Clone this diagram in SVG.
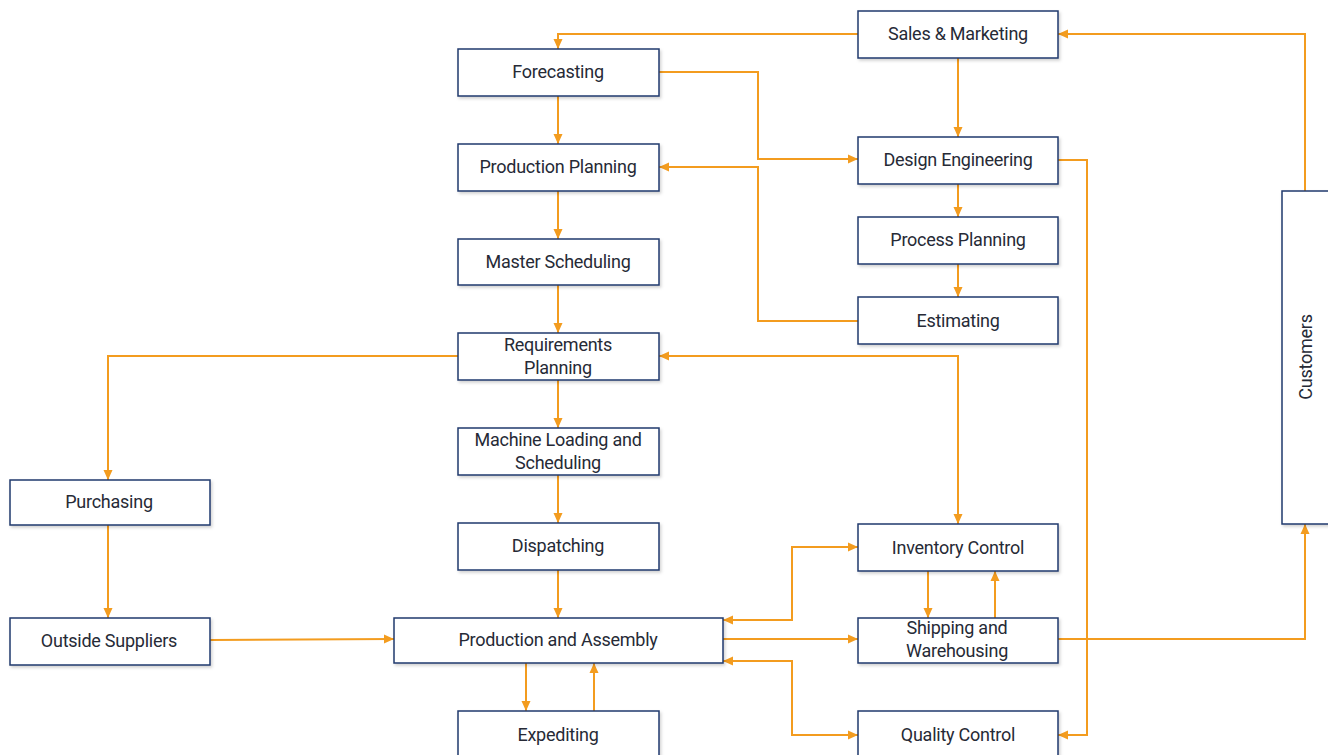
<svg xmlns="http://www.w3.org/2000/svg" width="1328" height="755" viewBox="0 0 1328 755">
  <defs>
    <style>
      .box { fill: #ffffff; stroke: #1f3a6e; stroke-width: 1.5; filter: url(#shadow); }
      .lbl { font-family: "Roboto", "Liberation Sans", sans-serif; font-size: 18px; letter-spacing: -0.25px; fill: #262a36; text-anchor: middle; dominant-baseline: central; }
      .wire { fill: none; stroke: #f39c1f; stroke-width: 2; }
      .fwd { marker-end: url(#arrow); }
      .both { marker-start: url(#arrowStart); marker-end: url(#arrow); }
    </style>
    <filter id="shadow" x="-5%" y="-10%" width="115%" height="130%">
      <feDropShadow dx="1.5" dy="2" stdDeviation="1.5" flood-color="#000000" flood-opacity="0.18"/>
    </filter>
    <marker id="arrow" viewBox="0 0 10 10" refX="10" refY="5" markerWidth="10" markerHeight="10" markerUnits="userSpaceOnUse" orient="auto">
      <path d="M0,0.5 L10,5 L0,9.5 Z" fill="#f39c1f"/>
    </marker>
    <marker id="arrowStart" viewBox="0 0 10 10" refX="0" refY="5" markerWidth="10" markerHeight="10" markerUnits="userSpaceOnUse" orient="auto">
      <path d="M10,0.5 L0,5 L10,9.5 Z" fill="#f39c1f"/>
    </marker>
  </defs>

  <rect width="1328" height="755" fill="#ffffff"/>

  <!-- connectors -->
  <g id="connectors">
    <path class="wire fwd" d="M858,34 H558 V49"/>
    <path class="wire fwd" d="M558,96 V144"/>
    <path class="wire fwd" d="M659,72 H758 V159 H858"/>
    <path class="wire fwd" d="M958,58 V137"/>
    <path class="wire fwd" d="M958,184 V217"/>
    <path class="wire fwd" d="M958,264 V297"/>
    <path class="wire fwd" d="M858,321 H758 V167 H659"/>
    <path class="wire fwd" d="M558,191 V239"/>
    <path class="wire fwd" d="M558,285 V333"/>
    <path class="wire fwd" d="M458,356 H108 V480"/>
    <path class="wire fwd" d="M558,380 V428"/>
    <path class="wire fwd" d="M558,475 V523"/>
    <path class="wire fwd" d="M558,570 V618"/>
    <path class="wire fwd" d="M108,525 V618"/>
    <path class="wire fwd" d="M210,640 L394,639"/>
    <path class="wire both" d="M659,356 H958 V524"/>
    <path class="wire both" d="M723,620 H792 V547 H858"/>
    <path class="wire fwd" d="M723,639 H858"/>
    <path class="wire both" d="M723,661 H792 V735 H858"/>
    <path class="wire fwd" d="M928,571 V618"/>
    <path class="wire fwd" d="M995,618 V571"/>
    <path class="wire fwd" d="M1058,639 H1305 V524"/>
    <path class="wire fwd" d="M1305,191 V34 H1058"/>
    <path class="wire fwd" d="M1058,160 H1087 V735 H1058"/>
    <path class="wire fwd" d="M526,663 V711"/>
    <path class="wire fwd" d="M594,711 V663"/>
  </g>

  <g id="sales-marketing">
    <rect class="box" x="858" y="11" width="200" height="47"/>
    <text class="lbl" x="958" y="33.5">Sales &amp; Marketing</text>
  </g>
  <g id="forecasting">
    <rect class="box" x="458" y="49" width="201" height="47"/>
    <text class="lbl" x="558" y="71.5">Forecasting</text>
  </g>
  <g id="production-planning">
    <rect class="box" x="458" y="144" width="201" height="47"/>
    <text class="lbl" x="558" y="166.5">Production Planning</text>
  </g>
  <g id="design-engineering">
    <rect class="box" x="858" y="137" width="200" height="47"/>
    <text class="lbl" x="958" y="159.5">Design Engineering</text>
  </g>
  <g id="process-planning">
    <rect class="box" x="858" y="217" width="200" height="47"/>
    <text class="lbl" x="958" y="239.5">Process Planning</text>
  </g>
  <g id="master-scheduling">
    <rect class="box" x="458" y="239" width="201" height="46"/>
    <text class="lbl" x="558" y="261">Master Scheduling</text>
  </g>
  <g id="estimating">
    <rect class="box" x="858" y="297" width="200" height="47"/>
    <text class="lbl" x="958" y="320">Estimating</text>
  </g>
  <g id="requirements-planning">
    <rect class="box" x="458" y="333" width="201" height="47"/>
    <text class="lbl" x="558" y="344">Requirements</text>
    <text class="lbl" x="558" y="367">Planning</text>
  </g>
  <g id="machine-loading">
    <rect class="box" x="458" y="428" width="201" height="47"/>
    <text class="lbl" x="558" y="439">Machine Loading and</text>
    <text class="lbl" x="558" y="462">Scheduling</text>
  </g>
  <g id="purchasing">
    <rect class="box" x="10" y="480" width="200" height="45"/>
    <text class="lbl" x="109" y="501.5">Purchasing</text>
  </g>
  <g id="dispatching">
    <rect class="box" x="458" y="523" width="201" height="47"/>
    <text class="lbl" x="558" y="545">Dispatching</text>
  </g>
  <g id="inventory-control">
    <rect class="box" x="858" y="524" width="200" height="47"/>
    <text class="lbl" x="958" y="547">Inventory Control</text>
  </g>
  <g id="outside-suppliers">
    <rect class="box" x="10" y="618" width="200" height="47"/>
    <text class="lbl" x="109" y="640.5">Outside Suppliers</text>
  </g>
  <g id="production-assembly">
    <rect class="box" x="394" y="618" width="329" height="45"/>
    <text class="lbl" x="558" y="639.5">Production and Assembly</text>
  </g>
  <g id="shipping-warehousing">
    <rect class="box" x="858" y="618" width="200" height="45"/>
    <text class="lbl" x="957" y="627.5">Shipping and</text>
    <text class="lbl" x="957" y="650">Warehousing</text>
  </g>
  <g id="expediting">
    <rect class="box" x="458" y="711" width="201" height="50"/>
    <text class="lbl" x="558" y="734.5">Expediting</text>
  </g>
  <g id="quality-control">
    <rect class="box" x="858" y="711" width="200" height="50"/>
    <text class="lbl" x="958" y="734.5">Quality Control</text>
  </g>
  <g id="customers">
    <rect class="box" x="1282" y="191" width="60" height="333"/>
    <text class="lbl" x="0" y="0" transform="translate(1305,357) rotate(-90)">Customers</text>
  </g>
</svg>
